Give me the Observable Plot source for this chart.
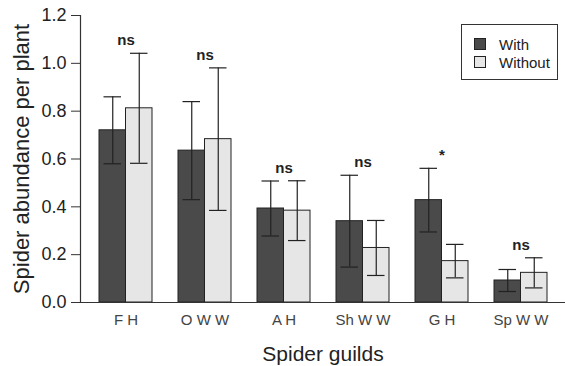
<!DOCTYPE html>
<html>
<head>
<meta charset="utf-8">
<script src="https://cdn.jsdelivr.net/npm/d3@7"></script>
<script src="https://cdn.jsdelivr.net/npm/@observablehq/plot@0.6"></script>
<style>
  html, body { margin: 0; padding: 0; background: #fff; }
  #wrap { position: relative; width: 565px; height: 366px; font-family: "Liberation Sans", Arial, sans-serif; }
  #legend { position: absolute; left: 461px; top: 24px; width: 97px; height: 56px; border: 1px solid #333; box-sizing: border-box; background: #fff; }
  .item { position: absolute; left: 12px; height: 18px; display: flex; align-items: center; font-size: 15px; color: #222; }
  .sw { width: 12px; height: 12px; border: 1px solid #222; margin-right: 13px; box-sizing: border-box; }
</style>
</head>
<body>
<div id="wrap"><div id="legend"></div></div>
<script>
const guilds = ["F H", "O W W", "A H", "Sh W W", "G H", "Sp W W"];
const series = ["With", "Without"];
const withMean = [0.72, 0.635, 0.393, 0.34, 0.428, 0.092];
const withSE = [0.14, 0.205, 0.115, 0.192, 0.133, 0.046];
const withoutMean = [0.812, 0.683, 0.384, 0.228, 0.173, 0.124];
const withoutSE = [0.23, 0.298, 0.125, 0.115, 0.07, 0.063];
const sigLabels = ["ns", "ns", "ns", "ns", "*", "ns"];
const yTicks = [0, 0.2, 0.4, 0.6, 0.8, 1.0, 1.2];
const colors = ["#4a4a4a", "#e6e6e6"];

const W = 565, ML = 80, MR = 0;
const padIn = 1 / 3, padOut = 0.217;
// half of the band width of one guild = width of one bar
const step = (W - ML - MR) / (guilds.length - padIn + 2 * padOut);
const half = step * (1 - padIn) / 2;

const mk = (means, ses, s) => guilds.map((g, i) => ({guild: g, series: s, mean: means[i], lo: means[i] - ses[i], hi: means[i] + ses[i]}));
const withData = mk(withMean, withSE, "With");
const withoutData = mk(withoutMean, withoutSE, "Without");
const sig = guilds.map((g, i) => ({guild: g, label: sigLabels[i], top: Math.max(withMean[i] + withSE[i], withoutMean[i] + withoutSE[i])}));

const barMarks = (d, side) => {
  const left = side === 0 ? 0 : half, right = side === 0 ? half : 0;
  const shift = side === 0 ? -half / 2 : half / 2;
  return [
    Plot.barY(d, {x: "guild", y: "mean", fill: "series", stroke: "#222", strokeWidth: 1, insetLeft: left, insetRight: right}),
    Plot.ruleX(d, {x: "guild", y1: "lo", y2: "hi", dx: shift, stroke: "#222", strokeWidth: 1.2}),
    Plot.tickY(d, {x: "guild", y: "lo", stroke: "#222", strokeWidth: 1.2, insetLeft: left + 4.5, insetRight: right + 4.5}),
    Plot.tickY(d, {x: "guild", y: "hi", stroke: "#222", strokeWidth: 1.2, insetLeft: left + 4.5, insetRight: right + 4.5})
  ];
};

const chart = Plot.plot({
  width: W,
  height: 366,
  marginLeft: ML,
  marginRight: MR,
  marginTop: 15,
  marginBottom: 64,
  style: {fontFamily: "'Liberation Sans', Arial, sans-serif", color: "#222", background: "#fff"},
  x: {domain: guilds, paddingInner: padIn, paddingOuter: padOut},
  y: {domain: [0, 1.2]},
  color: {domain: series, range: colors},
  marks: [
    ...barMarks(withData, 0),
    ...barMarks(withoutData, 1),
    Plot.text(sig, {x: "guild", y: "top", text: "label", dy: -13, fontSize: 15, fontWeight: "bold", fill: "#222"}),
    Plot.axisX({anchor: "bottom", tickSize: 0, tickPadding: 12, fontSize: 15, fill: "#444", label: null}),
    Plot.axisY({ticks: yTicks, tickFormat: d3.format(".1f"), tickSize: 9, tickPadding: 5, fontSize: 18, label: null, stroke: "#333"}),
    Plot.ruleY([0], {stroke: "#333", strokeWidth: 1.2}),
    Plot.frame({anchor: "left", stroke: "#333", strokeWidth: 1.2}),
    Plot.text(["Spider abundance per plant"], {frameAnchor: "left", textAnchor: "middle", lineAnchor: "middle", dx: -59, rotate: -90, fontSize: 22, fill: "#222"}),
    Plot.text(["Spider guilds"], {frameAnchor: "bottom", lineAnchor: "middle", dy: 52, fontSize: 21, fill: "#222"})
  ]
});
document.getElementById("wrap").prepend(chart);

const legend = document.getElementById("legend");
series.forEach((s, i) => {
  const it = document.createElement("div");
  it.className = "item";
  it.style.top = (10 + i * 18) + "px";
  const sw = document.createElement("div");
  sw.className = "sw";
  sw.style.background = colors[i];
  it.appendChild(sw);
  it.appendChild(document.createTextNode(s));
  legend.appendChild(it);
});
</script>
</body>
</html>
